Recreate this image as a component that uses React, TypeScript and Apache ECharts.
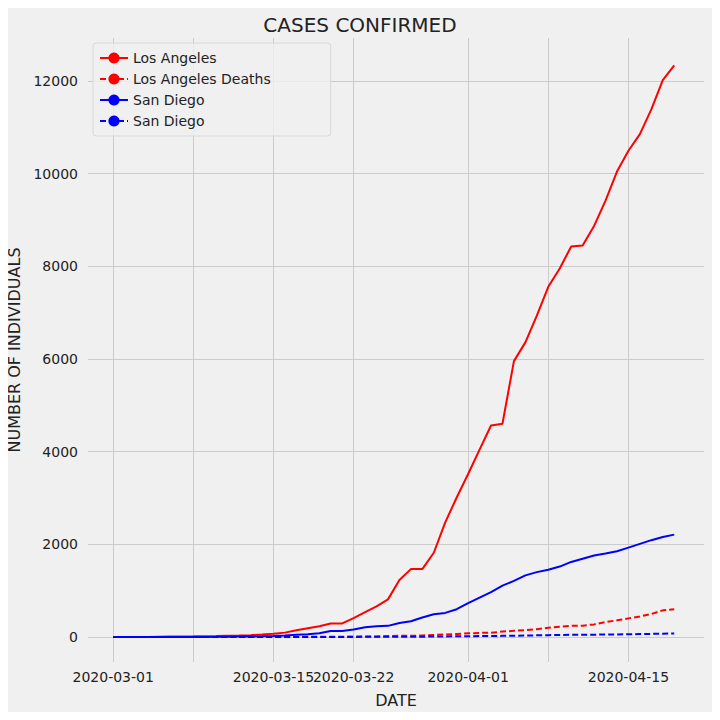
import React, { useRef, useEffect } from 'react'
import * as echarts from 'echarts'

// day index 0 = 2020-03-01
const startDate = new Date(Date.UTC(2020, 2, 1))

const laCases = [1, 1, 1, 1, 7, 11, 13, 14, 17, 20, 27, 32, 40, 53, 69, 94, 144, 190, 231, 292, 292, 407, 536, 662, 812, 1229, 1465, 1465, 1818, 2474, 3011, 3518, 4045, 4566, 4605, 5955, 6360, 6936, 7559, 7955, 8430, 8453, 8873, 9420, 10047, 10496, 10854, 11391, 12021, 12341]
const laDeaths = [0, 0, 0, 0, 0, 0, 0, 0, 0, 1, 1, 1, 1, 1, 1, 2, 2, 3, 5, 5, 7, 11, 13, 13, 21, 26, 26, 32, 44, 54, 65, 78, 89, 90, 117, 132, 147, 169, 198, 223, 241, 245, 272, 320, 360, 402, 443, 496, 575, 600]
const sdCases = [0, 0, 0, 0, 0, 0, 1, 1, 2, 3, 5, 8, 11, 14, 20, 30, 50, 60, 80, 130, 130, 160, 210, 230, 240, 300, 340, 420, 490, 520, 600, 730, 850, 970, 1110, 1210, 1330, 1400, 1450, 1520, 1620, 1690, 1760, 1800, 1850, 1930, 2010, 2090, 2160, 2210]
const sdDeaths = [0, 0, 0, 0, 0, 0, 0, 0, 0, 0, 0, 0, 0, 0, 0, 0, 0, 1, 1, 2, 2, 2, 3, 3, 4, 4, 5, 7, 9, 11, 15, 18, 19, 22, 24, 26, 31, 36, 40, 44, 46, 48, 50, 53, 55, 58, 63, 67, 71, 75]

const xTickDays = [0, 7, 14, 21, 31, 38, 45]
const yTicks = [0, 2000, 4000, 6000, 8000, 10000, 12000]

const fmtDay = (d: number) => {
  const t = new Date(startDate.getTime() + Math.round(d) * 86400000)
  return t.toISOString().slice(0, 10)
}

const toPairs = (arr: number[]) => arr.map((v, i) => [i, v])

const App: React.FC = () => {
  const chartRef = useRef<HTMLDivElement>(null)

  useEffect(() => {
    if (!chartRef.current) return
    const chart = echarts.init(chartRef.current, undefined, { renderer: 'svg' })
    const font = 'DejaVu Sans'
    const gridColor = '#cbcbcb'
    const textColor = '#222222'

    const line = (name: string, data: number[], color: string, dashed: boolean) => ({
      name,
      type: 'line',
      data: toPairs(data),
      showSymbol: false,
      symbol: 'none',
      lineStyle: { color, width: 2, type: dashed ? [6, 3] : 'solid' },
      itemStyle: { color },
    })

    chart.setOption({
      animation: false,
      backgroundColor: '#f0f0f0',
      textStyle: { fontFamily: font },
      title: {
        text: 'CASES CONFIRMED',
        left: 'center',
        top: 10,
        textStyle: { fontSize: 20, fontWeight: 'normal', color: textColor, fontFamily: font },
      },
      legend: {
        orient: 'vertical',
        left: 93,
        top: 43,
        padding: [8, 60, 8, 6],
        itemGap: 7,
        itemWidth: 28,
        itemHeight: 14,
        backgroundColor: 'rgba(240,240,240,0.8)',
        borderColor: '#d8d8d8',
        borderWidth: 1,
        borderRadius: 3,
        textStyle: { fontSize: 14, color: textColor, fontFamily: font },
        data: ['Los Angeles', 'Los Angeles Deaths', 'San Diego', 'San Diego '],
      },
      grid: { left: 88, right: 16, top: 38, bottom: 58, outerBoundsMode: 'none', containLabel: false },
      xAxis: {
        type: 'value',
        min: -2.2,
        max: 51.6,
        name: 'DATE',
        nameLocation: 'middle',
        nameGap: 30,
        nameTextStyle: { fontSize: 16, color: textColor },
        axisLine: { show: false },
        axisTick: { show: false, customValues: xTickDays },
        axisLabel: {
          customValues: xTickDays,
          formatter: (v: number) => fmtDay(v),
          fontSize: 14,
          color: textColor,
          margin: 8,
          hideOverlap: false,
          showMinLabel: true,
          showMaxLabel: true,
        },
        splitLine: { show: true, lineStyle: { color: gridColor, width: 1 } },
      },
      yAxis: {
        type: 'value',
        min: -540,
        max: 12930,
        name: 'NUMBER OF INDIVIDUALS',
        nameLocation: 'middle',
        nameGap: 56,
        nameTextStyle: { fontSize: 16, color: textColor },
        axisLine: { show: false },
        axisTick: { show: false, customValues: yTicks },
        axisLabel: { customValues: yTicks, formatter: (v: number) => String(v), fontSize: 14, color: textColor, margin: 10 },
        splitLine: { show: true, lineStyle: { color: gridColor, width: 1 } },
      },
      series: [
        line('Los Angeles', laCases, '#ff0000', false),
        line('Los Angeles Deaths', laDeaths, '#ff0000', true),
        line('San Diego', sdCases, '#0000ff', false),
        line('San Diego ', sdDeaths, '#0000ff', true),
      ],
    })

    return () => chart.dispose()
  }, [])

  return <div ref={chartRef} style={{ width: 720, height: 720, margin: -8 }} />
}

export default App
